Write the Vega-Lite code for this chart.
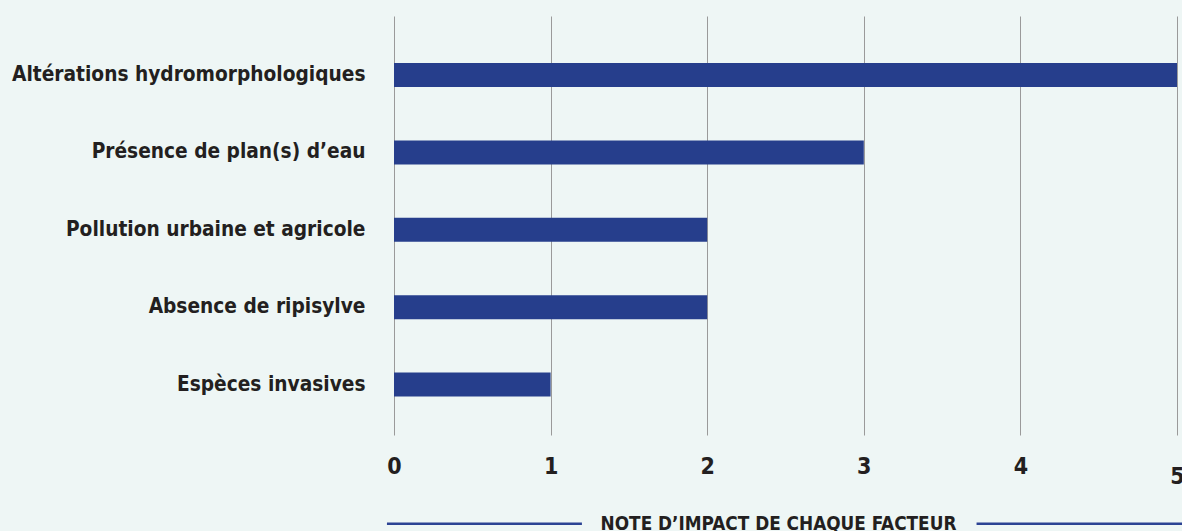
{
  "$schema": "https://vega.github.io/schema/vega-lite/v6.json",
  "width": 783,
  "height": 419,
  "autosize": {"type": "none"},
  "padding": {"left": 394, "top": 16, "right": 5, "bottom": 96},
  "background": "#EEF6F5",
  "config": {"view": {"stroke": null}, "font": "DejaVu Sans Condensed, Roboto"},
  "layer": [
    {
      "data": {"values": [
        {"facteur": "Altérations hydromorphologiques", "note": 5},
        {"facteur": "Présence de plan(s) d’eau", "note": 3},
        {"facteur": "Pollution urbaine et agricole", "note": 2},
        {"facteur": "Absence de ripisylve", "note": 2},
        {"facteur": "Espèces invasives", "note": 1}
      ]},
      "mark": {"type": "bar", "color": "#263E8C", "height": {"band": 0.31}},
      "encoding": {
        "y": {
          "field": "facteur", "type": "nominal", "sort": null,
          "scale": {"paddingInner": 0, "paddingOuter": 0.2067, "align": 0.634},
          "axis": {"title": null, "domain": false, "ticks": false, "labelPadding": 29,
                   "labelFont": "DejaVu Sans Condensed, Roboto", "labelFontSize": 20.7, "labelFontWeight": "bold",
                   "labelColor": "#231F20", "labelLimit": 400}
        },
        "x": {
          "field": "note", "type": "quantitative",
          "scale": {"domain": [0, 5], "nice": false},
          "axis": {"values": [0, 1, 2, 3, 4, 5], "format": "d", "grid": true, "gridColor": "#9A9A9A", "gridWidth": 1,
                   "domain": false, "ticks": false, "labelBaseline": "top",
                   "labelPadding": {"condition": {"test": "datum.value === 5", "value": 30}, "value": 20},
                   "labelFont": "DejaVu Sans Condensed, Roboto", "labelFontSize": 23, "labelFontWeight": "bold",
                   "labelColor": "#231F20", "labelFlush": false,
                   "title": "NOTE D’IMPACT DE CHAQUE FACTEUR", "titleY": 94, "titleX": 384, "titleBaseline": "alphabetic",
                   "titleFont": "DejaVu Sans Condensed, Roboto", "titleFontSize": 18.8, "titleFontWeight": "bold",
                   "titleColor": "#231F20"}
        }
      }
    },
    {
      "data": {"values": [
        {"debut": -0.045, "fin": 1.2, "niveau": -0.212},
        {"debut": 3.72, "fin": 5.05, "niveau": -0.212}
      ]},
      "mark": {"type": "rule", "color": "#2C4394", "strokeWidth": 2.5},
      "encoding": {
        "x": {"field": "debut", "type": "quantitative"},
        "x2": {"field": "fin"},
        "y": {"field": "niveau", "type": "quantitative", "scale": {"domain": [0, 1], "nice": false, "zero": false}, "axis": null}
      }
    }
  ],
  "resolve": {"scale": {"y": "independent"}}
}
